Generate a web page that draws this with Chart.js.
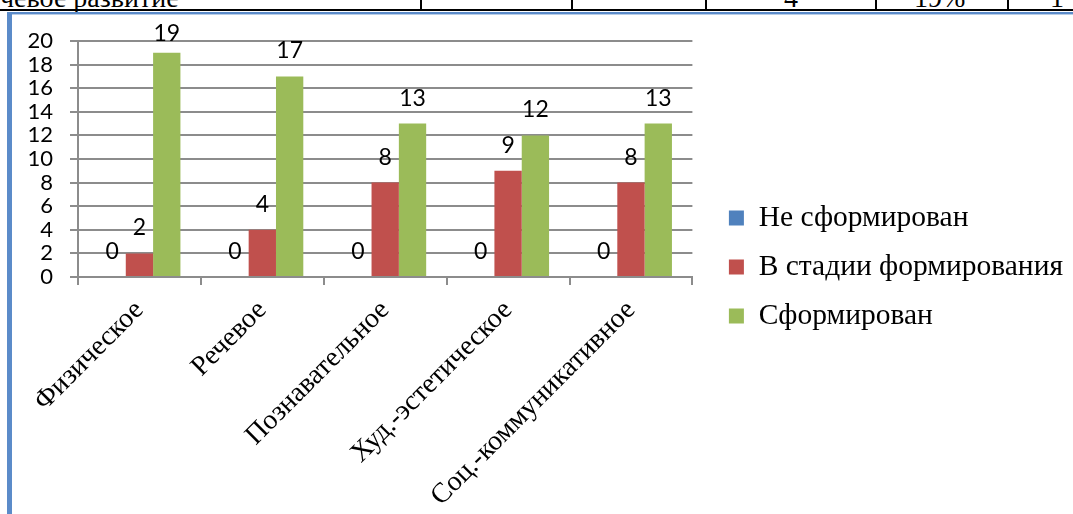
<!DOCTYPE html>
<html>
<head>
<meta charset="utf-8">
<script src="https://cdn.jsdelivr.net/npm/chart.js@4.4.1/dist/chart.umd.min.js"></script>
<style>
    html, body { margin: 0; padding: 0; background: #fff; }
    body { width: 1073px; height: 514px; position: relative; overflow: hidden; }
    .cell-text { position: absolute; top: -16px; font: 28px 'Liberation Serif', serif; line-height: 28px; color: #000; white-space: nowrap; }
    .hline { position: absolute; left: 0; top: 9px; width: 1073px; height: 2px; background: #000; }
    .vline { position: absolute; top: 0; width: 2px; height: 11px; background: #000; }
    .frame-top { position: absolute; left: 7px; top: 12px; width: 1066px; height: 2px; background: #5b8bc9; border-bottom: 1px solid #b9cde6; }
    .frame-left { position: absolute; left: 7px; top: 12px; width: 5px; height: 502px; background: #5b8bc9; }
    #wrap { position: absolute; left: 0; top: 0; width: 1073px; height: 514px; }
</style>
</head>
<body>
<!-- piece of the table row above the chart -->
<div class="cell-text" style="left:0">чевое развитие</div>
<div class="cell-text" style="left:784px">4</div>
<div class="cell-text" style="left:914px">19%</div>
<div class="cell-text" style="left:1050px">1</div>
<div class="hline"></div>
<div class="vline" style="left:420px"></div>
<div class="vline" style="left:571px"></div>
<div class="vline" style="left:705px"></div>
<div class="vline" style="left:875px"></div>
<div class="vline" style="left:1007px"></div>
<div class="frame-top"></div>
<div class="frame-left"></div>

<div id="wrap"><canvas id="chart"></canvas></div>

<script>
// Data
const categories = ['Физическое', 'Речевое', 'Познавательное', 'Худ.-эстетическое', 'Соц.-коммуникативное'];
const seriesNames = ['Не сформирован', 'В стадии формирования', 'Сформирован'];
const notFormed = [0, 0, 0, 0, 0];
const inProgress = [2, 4, 8, 9, 8];
const formed = [19, 17, 13, 12, 13];
const yMin = 0;
const yMax = 20;
const yStep = 2;

const colors = ['#4f81bd', '#c0504d', '#9bbb59'];
const gridColor = '#8c8c8c';

// value labels above the bars (Excel style)
const valueLabels = {
    id: 'valueLabels',
    afterDatasetsDraw(chart) {
        const { ctx, chartArea } = chart;
        ctx.save();
        ctx.font = "23px Lato, sans-serif";
        ctx.fillStyle = '#000';
        ctx.textAlign = 'center';
        ctx.textBaseline = 'alphabetic';
        chart.data.datasets.forEach((ds, i) => {
            chart.getDatasetMeta(i).data.forEach((bar, j) => {
                const y = Math.max(bar.y - 18, chartArea.top);
                ctx.fillText(ds.data[j], bar.x, y);
            });
        });
        ctx.restore();
    }
};

const ctx = document.getElementById('chart').getContext('2d');
new Chart(ctx, {
    type: 'bar',
    data: {
        labels: categories,
        datasets: [notFormed, inProgress, formed].map((d, i) => ({
            label: seriesNames[i],
            data: d,
            backgroundColor: colors[i],
            borderWidth: 0,
            categoryPercentage: 0.667,
            barPercentage: 1
        }))
    },
    options: {
        responsive: true,
        maintainAspectRatio: false,
        animation: false,
        layout: { padding: { top: 20, left: 0, right: 0, bottom: 0 } },
        scales: {
            x: {
                grid: { offset: true, drawOnChartArea: false, color: gridColor, lineWidth: 2, tickLength: 8 },
                border: { color: gridColor, width: 2 },
                ticks: {
                    autoSkip: false, minRotation: 45, maxRotation: 45, padding: 9,
                    color: '#000', font: { family: "'Liberation Serif', serif", size: 28 }
                },
                afterFit: s => { s.height = 237; }
            },
            y: {
                min: yMin, max: yMax,
                grid: { color: gridColor, lineWidth: 2, tickLength: 8 },
                border: { color: gridColor, width: 2 },
                ticks: {
                    stepSize: yStep, autoSkip: false, padding: 17, color: '#000',
                    font: { family: 'Lato, sans-serif', size: 22 }
                },
                afterFit: s => { s.width = 78; }
            },
            // empty boxes that only reserve space round the plot
            padTop: {
                type: 'linear', position: 'top', display: true,
                grid: { display: false }, border: { display: false }, ticks: { display: false },
                afterFit: s => { s.height = 21; }
            },
            padRight: {
                type: 'linear', position: 'right', display: true,
                grid: { display: false }, border: { display: false }, ticks: { display: false },
                afterFit: s => { s.width = 17; }
            }
        },
        plugins: {
            legend: {
                position: 'right',
                maxWidth: 400,
                labels: {
                    boxWidth: 15, boxHeight: 15, padding: 19.5, color: '#000',
                    font: { family: "'Liberation Serif', serif", size: 29.5 }
                }
            },
            tooltip: { enabled: false }
        }
    },
    plugins: [valueLabels]
});
</script>
</body>
</html>
